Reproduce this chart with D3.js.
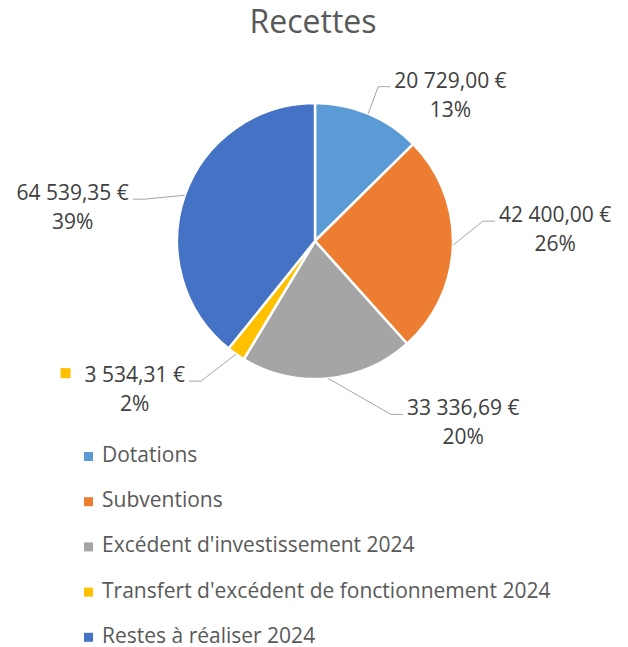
<!DOCTYPE html>
<html>
<head>
<meta charset="utf-8">
<script src="https://cdn.jsdelivr.net/npm/d3@7"></script>
<style>
  body { margin: 0; background: #fff; }
  svg { display: block; }
  text { font-family: "Open Sans", sans-serif; }
</style>
</head>
<body>
<svg id="chart"></svg>
<script>
// chart data
const categories = ["Dotations", "Subventions", "Excédent d'investissement 2024", "Transfert d'excédent de fonctionnement 2024", "Restes à réaliser 2024"]
const amounts = [20729.00, 42400.00, 33336.69, 3534.31, 64539.35]
const colors = ["#5B9BD5", "#ED7D31", "#A5A5A5", "#FFC000", "#4472C4"]
const title = "Recettes"

// where Excel dropped each data label, as elbow offset from the slice edge
const labelElbow = [[10, -27], [30, -24], [63, 36], [-35, 27], [-40, 4]]
const showKey = [false, false, false, true, false]

const width = 628, height = 647
const cx = 315, cy = 241, radius = 138
const fontSize = 21

const svg = d3.select("#chart").attr("width", width).attr("height", height)

svg.append("text").text(title)
    .attr("x", 313).attr("y", 33)
    .attr("text-anchor", "middle")
    .attr("font-size", 32)
    .attr("fill", "#595959")

const total = d3.sum(amounts)
const data = categories.map((c, i) => ({cat: c, value: amounts[i], color: colors[i], i: i}))
const pie = d3.pie().sort(null).value(d => d.value)
const arc = d3.arc().innerRadius(0).outerRadius(radius)
const arcs = pie(data)

const pieG = svg.append("g").attr("transform", `translate(${cx},${cy})`)
pieG.selectAll("path")
    .data(arcs)
    .join("path")
    .attr("d", arc)
    .attr("fill", d => d.data.color)
    .attr("stroke", "#fff")
    .attr("stroke-width", 2.5)
    .attr("stroke-linejoin", "round")

const fmtNum = d3.formatLocale({decimal: ",", thousands: "\u00a0", grouping: [3]}).format(",.2f")
const pct = v => Math.round(v / total * 100) + "%"

// data labels with leader lines
const labelG = svg.append("g").attr("transform", `translate(${cx},${cy})`)
arcs.forEach(a => {
    const mid = (a.startAngle + a.endAngle) / 2
    const px = Math.sin(mid) * radius, py = -Math.cos(mid) * radius
    const off = labelElbow[a.data.i]
    const ex = px + off[0], ey = py + off[1]
    const dir = off[0] > 0 ? 1 : -1
    const hx = ex + dir * 12

    labelG.append("polyline")
        .attr("points", [[px, py], [ex, ey], [hx, ey]].map(p => p.join(",")).join(" "))
        .attr("fill", "none")
        .attr("stroke", "#A6A6A6")
        .attr("stroke-width", 1)

    const t1 = labelG.append("text")
        .text(fmtNum(a.data.value) + " €")
        .attr("font-size", fontSize)
        .attr("fill", "#404040")
        .attr("y", ey + 1)
    const w = t1.node().getComputedTextLength()
    const x0 = dir > 0 ? hx + 4 : hx - 4 - w
    t1.attr("x", x0)
    labelG.append("text")
        .text(pct(a.data.value))
        .attr("font-size", fontSize)
        .attr("fill", "#404040")
        .attr("text-anchor", "middle")
        .attr("x", x0 + w / 2)
        .attr("y", ey + 30)
    if (showKey[a.data.i]) {
        labelG.append("rect")
            .attr("x", x0 - 24).attr("y", ey - 13)
            .attr("width", 10).attr("height", 10)
            .attr("fill", a.data.color)
    }
})

// legend
const legend = svg.append("g").attr("transform", "translate(84,462)")
const rows = legend.selectAll("g")
    .data(data)
    .join("g")
    .attr("transform", (d, i) => `translate(0, ${i * 45.2})`)
rows.append("rect")
    .attr("x", 0).attr("y", -10)
    .attr("width", 9).attr("height", 9)
    .attr("fill", d => d.color)
rows.append("text")
    .attr("x", 18).attr("y", 0)
    .attr("font-size", fontSize)
    .attr("fill", "#595959")
    .text(d => d.cat)
</script>
</body>
</html>
